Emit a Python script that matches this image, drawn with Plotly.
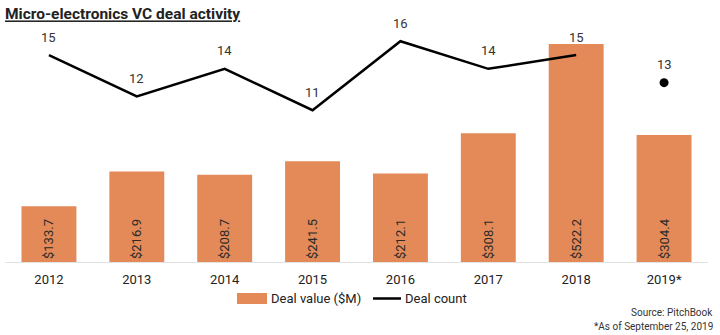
import plotly.graph_objects as go

years = ["2012", "2013", "2014", "2015", "2016", "2017", "2018", "2019*"]
deal_value = [133.7, 216.9, 208.7, 241.5, 212.1, 308.1, 522.2, 304.4]
deal_count = [15, 12, 14, 11, 16, 14, 15, 13]
value_labels = ["$133.7", "$216.9", "$208.7", "$241.5", "$212.1", "$308.1", "$522.2", "$304.4"]

BAR_COLOR = "#E38A58"
FONT = "Roboto, Liberation Sans, Arial, sans-serif"

# plot area geometry (pixels) used for the hand-drawn legend
L, R, T, B = 5, 12, 20, 73
W, H = 720, 335
PW, PH = W - L - R, H - T - B
def px(x):
    return (x - L) / PW
def py(y):
    return (H - B - y) / PH

fig = go.Figure()
fig.add_trace(go.Bar(
    x=years, y=deal_value, name="Deal value ($M)",
    marker=dict(color=BAR_COLOR, line=dict(width=0)),
    text=value_labels, textposition="inside", insidetextanchor="start",
    textangle=-90, textfont=dict(size=13, color="#2a2a2a", family=FONT),
    yaxis="y", showlegend=False,
))
fig.add_trace(go.Scatter(
    x=years[:7], y=deal_count[:7], name="Deal count", mode="lines",
    line=dict(color="black", width=2.5), yaxis="y2", showlegend=False,
))
fig.add_trace(go.Scatter(
    x=years[7:], y=deal_count[7:], mode="markers", showlegend=False,
    marker=dict(color="black", size=9), yaxis="y2",
))

for i, c in enumerate(deal_count):
    fig.add_annotation(x=i, y=c, xref="x", yref="y2", text=str(c),
                       showarrow=False, yshift=18,
                       font=dict(size=13, color="#333", family=FONT))

# custom legend
fig.add_shape(type="rect", xref="paper", yref="paper",
              x0=px(237), x1=px(267), y0=py(304), y1=py(293),
              fillcolor=BAR_COLOR, line=dict(width=0))
fig.add_annotation(x=px(269), y=py(298.5), xref="paper", yref="paper",
                   xanchor="left", yanchor="middle", text="Deal value ($M)",
                   showarrow=False, font=dict(size=13, color="#222", family=FONT))
fig.add_shape(type="line", xref="paper", yref="paper",
              x0=px(373), x1=px(401), y0=py(298.5), y1=py(298.5),
              line=dict(color="black", width=2.5))
fig.add_annotation(x=px(403), y=py(298.5), xref="paper", yref="paper",
                   xanchor="left", yanchor="middle", text="Deal count",
                   showarrow=False, font=dict(size=13, color="#222", family=FONT))

fig.add_annotation(x=px(715), y=py(312), xref="paper", yref="paper", xanchor="right",
                   yanchor="middle", text="Source: PitchBook", showarrow=False,
                   font=dict(size=10, color="#333", family=FONT))
fig.add_annotation(x=px(715), y=py(326), xref="paper", yref="paper", xanchor="right",
                   yanchor="middle", text="*As of September 25, 2019", showarrow=False,
                   font=dict(size=10, color="#333", family=FONT))

fig.update_layout(
    width=W, height=H,
    margin=dict(l=L, r=R, t=T, b=B),
    paper_bgcolor="white", plot_bgcolor="white",
    font=dict(family=FONT, color="#222"),
    bargap=0.375,
    title=dict(text="<b><u>Micro-electronics VC deal activity</u></b>",
               xref="container", x=5/720, xanchor="left",
               yref="container", y=1-14/335, yanchor="middle",
               font=dict(size=15.5, color="#222", family=FONT)),
    xaxis=dict(type="category", showgrid=False, showline=True, linecolor="#e3e3e3",
               linewidth=1, ticks="outside", ticklen=5, tickcolor="rgba(0,0,0,0)",
               tickfont=dict(size=13, color="#222"), zeroline=False),
    yaxis=dict(range=[0, 579.6], visible=False, showgrid=False, zeroline=False),
    yaxis2=dict(range=[0, 17.54], overlaying="y", visible=False, showgrid=False, zeroline=False),
    showlegend=False,
)

fig.write_html("out.html")
